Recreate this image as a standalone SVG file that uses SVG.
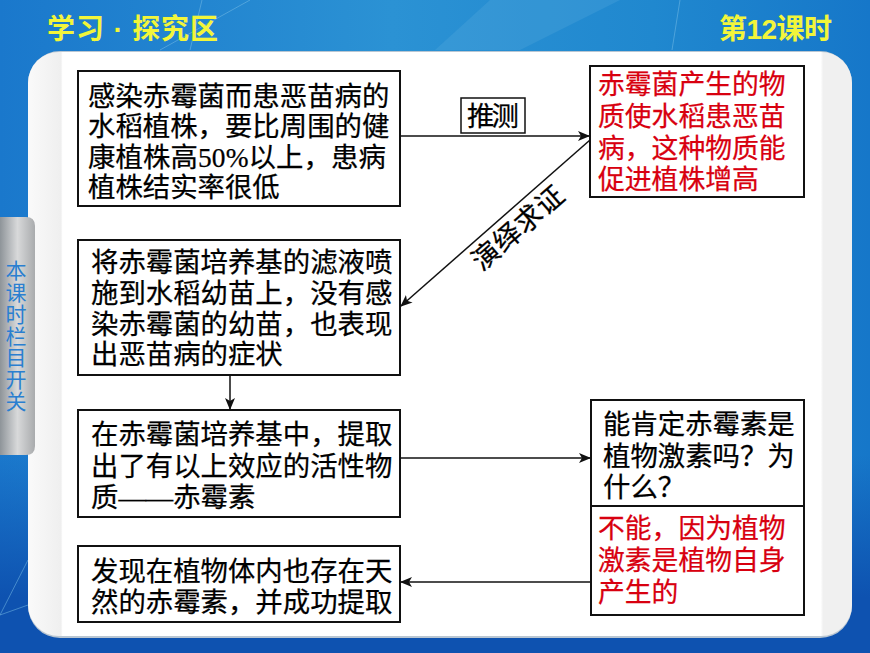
<svg xmlns="http://www.w3.org/2000/svg" width="870" height="653" viewBox="0 0 870 653">
<style>
text{font-family:"Liberation Serif","Noto Sans CJK SC",serif;font-size:27.4px;stroke-width:.25}
.k{fill:#000;stroke:#000}.r{fill:#d8000f;stroke:#d8000f;font-size:26.8px}
.b{fill:#fff;stroke:#111;stroke-width:2}
.c{fill:none;stroke:#111;stroke-width:1.5}
.h{font-family:"Liberation Sans","Noto Sans CJK SC",sans-serif;font-weight:700;fill:#f2f53a;font-size:28px}
.s{font-family:"Noto Sans CJK SC",sans-serif;font-size:21px;letter-spacing:.7px;fill:#2a7fd0;writing-mode:vertical-rl}
</style>
<defs>
<linearGradient id="bg" x1="0" y1="0" x2="1" y2="0"><stop offset="0" stop-color="#1a78cc"/><stop offset=".45" stop-color="#2b92d4"/><stop offset=".75" stop-color="#2088cf"/><stop offset="1" stop-color="#1677c9"/></linearGradient>
<linearGradient id="bt" x1="0" y1="0" x2="0" y2="1"><stop offset="0" stop-color="#0e52b0" stop-opacity="0"/><stop offset=".72" stop-color="#0e52b0"/><stop offset="1" stop-color="#0e52b0"/></linearGradient>
<linearGradient id="sd" x1="0" y1="0" x2="1" y2="0"><stop offset="0" stop-color="#8e9499"/><stop offset=".5" stop-color="#d8d9da"/><stop offset="1" stop-color="#a9abad"/></linearGradient>
<linearGradient id="pn" x1="0" y1="0" x2="1" y2="0"><stop offset="0" stop-color="#fafafa"/><stop offset=".04" stop-color="#efefef"/><stop offset=".042" stop-color="#fff"/><stop offset=".962" stop-color="#fff"/><stop offset=".965" stop-color="#f0f0f0"/><stop offset="1" stop-color="#f0f0f0"/></linearGradient>
<marker id="a" viewBox="0 0 12 10" refX="11" refY="5" markerWidth="12" markerHeight="10" markerUnits="userSpaceOnUse" orient="auto"><path d="M0 0L12 5L0 10L3 5Z" fill="#111"/></marker>
</defs>
<g id="background">
<rect width="870" height="653" fill="url(#bg)"/>
<rect y="455" width="870" height="198" fill="url(#bt)"/>
<path d="M190 50L202 0M672 50L680 0M160 50L250 0M0 615L28 560M0 615L28 605" stroke="#7cc0e8" stroke-width="1" fill="none" opacity=".5"/>
<path d="M435 50L490 0H620L520 50Z" fill="#5fb0e0" opacity=".25"/>
<rect x="28" y="51" width="824" height="587" rx="32" fill="#b9c6d2"/>
<rect x="28" y="52" width="824" height="584" rx="31" fill="url(#pn)"/>
<text class="h" x="47" y="39" textLength="171">学习 · 探究区</text>
<text class="h" x="719" y="39" textLength="113">第12课时</text>
</g>
<g id="sidebar">
<path d="M0 217H26Q35 217 35 226V446Q35 455 26 455H0Z" fill="url(#sd)"/>
<text class="s" x="16" y="260">本课时栏目开关</text>
</g>
<g id="connectors">
<path class="c" d="M400 136H589" marker-end="url(#a)"/>
<path class="c" d="M590 140L401 306" marker-end="url(#a)"/>
<path class="c" d="M230 375V409" marker-end="url(#a)"/>
<path class="c" d="M400 458H590" marker-end="url(#a)"/>
<path class="c" d="M591 582H401" marker-end="url(#a)"/>
</g>
<g id="label-tuice">
<rect x="461" y="98" width="64" height="35" fill="#fff" stroke="#111" stroke-width="1.5"/>
<text class="k" x="467" y="126" textLength="52">推测</text>
</g>
<g id="label-yanyi">
<text class="k" transform="translate(482 272) rotate(-41)" textLength="112">演绎求证</text>
</g>
<g id="node-1">
<rect class="b" x="78" y="71" width="322" height="135"/>
<text class="k" x="88" y="106">感染赤霉菌而患恶苗病的</text>
<text class="k" x="88" y="136">水稻植株，要比周围的健</text>
<text class="k" x="88" y="167" textLength="298">康植株高50%以上，患病</text>
<text class="k" x="88" y="197">植株结实率很低</text>
</g>
<g id="node-2">
<rect class="b" x="78" y="240" width="322" height="135"/>
<text class="k" x="91" y="272">将赤霉菌培养基的滤液喷</text>
<text class="k" x="91" y="303">施到水稻幼苗上，没有感</text>
<text class="k" x="91" y="334">染赤霉菌的幼苗，也表现</text>
<text class="k" x="91" y="364">出恶苗病的症状</text>
</g>
<g id="node-3">
<rect class="b" x="78" y="410" width="322" height="107"/>
<text class="k" x="91" y="444">在赤霉菌培养基中，提取</text>
<text class="k" x="91" y="476">出了有以上效应的活性物</text>
<text class="k" x="91" y="507">质——赤霉素</text>
</g>
<g id="node-4">
<rect class="b" x="78" y="546" width="322" height="76"/>
<text class="k" x="91" y="581">发现在植物体内也存在天</text>
<text class="k" x="91" y="612">然的赤霉素，并成功提取</text>
</g>
<g id="node-5">
<rect class="b" x="590" y="66" width="214" height="131"/>
<text class="r" x="598" y="94">赤霉菌产生的物</text>
<text class="r" x="598" y="126">质使水稻患恶苗</text>
<text class="r" x="598" y="158">病，这种物质能</text>
<text class="r" x="598" y="189">促进植株增高</text>
</g>
<g id="node-6">
<rect class="b" x="591" y="400" width="213" height="106"/>
<text class="k" x="603" y="434">能肯定赤霉素是</text>
<text class="k" x="603" y="466">植物激素吗？为</text>
<text class="k" x="603" y="497">什么？</text>
</g>
<g id="node-7">
<rect class="b" x="591" y="506" width="213" height="109"/>
<text class="r" x="598" y="538">不能，因为植物</text>
<text class="r" x="598" y="570">激素是植物自身</text>
<text class="r" x="598" y="602">产生的</text>
</g>
</svg>
